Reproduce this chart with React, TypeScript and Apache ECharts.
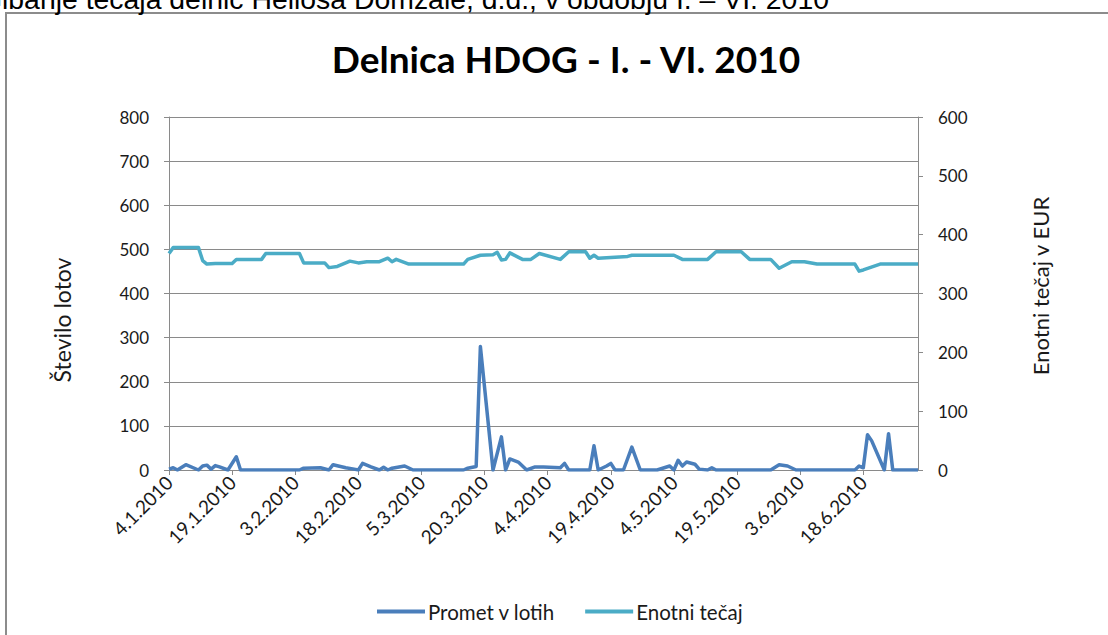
import React, { useEffect, useRef } from "react";
import * as echarts from "echarts";

// ---- data ----
const volumeDates = [
  "4.1", "5.1", "6.1", "8.1", "11.1", "12.1", "13.1", "14.1", "15.1", "16.1", "18.1", "20.1", "21.1",
  "4.2", "5.2", "9.2", "11.2", "12.2", "15.2", "17.2", "18.2", "19.2", "21.2", "23.2", "24.2", "25.2", "26.2",
  "1.3", "3.3", "15.3", "16.3", "18.3", "19.3", "22.3", "24.3", "25.3", "26.3", "28.3", "30.3",
  "1.4", "3.4", "7.4", "8.4", "9.4", "14.4", "15.4", "16.4", "18.4", "19.4", "20.4", "22.4", "24.4", "26.4", "30.4",
  "3.5", "4.5", "5.5", "6.5", "7.5", "9.5", "10.5", "12.5", "13.5", "14.5", "27.5", "29.5", "31.5",
  "2.6", "16.6", "17.6", "18.6", "19.6", "20.6", "23.6", "24.6", "25.6", "1.7",
];
const volumeValues = [
  2, 5, 0, 12, 0, 9, 11, 2, 10, 7, 0, 30, 0,
  0, 4, 5, 0, 12, 5, 2, 0, 15, 7, 0, 6, 0, 4,
  9, 0, 0, 4, 8, 280, 0, 75, 0, 25, 18, 0,
  7, 7, 5, 15, 0, 0, 55, 0, 9, 15, 0, 0, 52, 0, 0,
  9, 0, 22, 9, 18, 13, 2, 0, 5, 0, 0, 12, 9,
  0, 0, 9, 5, 80, 66, 0, 82, 0, 0,
];

const priceDates = [
  "4.1", "5.1", "11.1", "12.1", "13.1", "15.1", "19.1", "20.1", "26.1", "27.1",
  "4.2", "5.2", "10.2", "11.2", "13.2", "16.2", "18.2", "20.2", "23.2", "25.2", "26.2", "27.2",
  "2.3", "15.3", "16.3", "19.3", "22.3", "23.3", "24.3", "25.3", "26.3", "29.3", "31.3",
  "2.4", "7.4", "9.4", "13.4", "14.4", "15.4", "16.4", "23.4", "24.4",
  "4.5", "6.5", "12.5", "14.5", "20.5", "22.5", "27.5", "29.5",
  "1.6", "4.6", "7.6", "16.6", "17.6", "18.6", "22.6", "1.7",
];
const priceValues = [
  368, 378, 378, 356, 350, 351, 351, 358, 358, 368,
  368, 352, 352, 344, 346, 355, 352, 354, 354, 360, 354, 358,
  350, 350, 358, 365, 366, 370, 357, 358, 369, 358, 358,
  368, 358, 371, 371, 360, 365, 360, 363, 365,
  365, 358, 358, 371, 371, 358, 358, 343,
  354, 354, 350, 350, 338, 340, 350, 350,
];

const xTickLabels = [
  "4.1.2010", "19.1.2010", "3.2.2010", "18.2.2010", "5.3.2010", "20.3.2010",
  "4.4.2010", "19.4.2010", "4.5.2010", "19.5.2010", "3.6.2010", "18.6.2010",
];
const xAxisEnd = "1.7.2010";
const leftAxisMax = 800;
const leftAxisStep = 100;
const rightAxisMax = 600;
const rightAxisStep = 100;

const seriesNames = ["Promet v lotih", "Enotni tečaj"];
const titleText = "Delnica HDOG - I. - VI. 2010";
const leftAxisName = "Število lotov";
const rightAxisName = "Enotni tečaj v EUR";
const pageHeading = "Gibanje tečaja delnic Heliosa Domžale, d.d., v obdobju I. – VI. 2010";

// ---- helpers ----
const START = Date.UTC(2010, 0, 4);
const DAY = 86400000;
function toOffset(s: string): number {
  const p = s.split(".").map(Number);
  const y = p.length > 2 ? p[2] : 2010;
  return Math.round((Date.UTC(y, p[1] - 1, p[0]) - START) / DAY);
}
function offsetLabel(v: number): string {
  const dt = new Date(START + v * DAY);
  return `${dt.getUTCDate()}.${dt.getUTCMonth() + 1}.${dt.getUTCFullYear()}`;
}

const FONT = "Lato, 'Noto Sans', sans-serif";
const TEXT = "#1a1a1a";
const GRID = "#8a8a8a";

export default function App() {
  const ref = useRef<HTMLDivElement>(null);

  useEffect(() => {
    if (!ref.current) return;
    const chart = echarts.init(ref.current, undefined, { renderer: "svg" });
    const tickOffsets = xTickLabels.map(toOffset);
    const lastTick = tickOffsets[tickOffsets.length - 1];
    const volData = volumeDates.map((d, i) => [toOffset(d), volumeValues[i]]);
    const priceData = priceDates.map((d, i) => [toOffset(d), priceValues[i]]);

    chart.setOption({
      animation: false,
      backgroundColor: "#ffffff",
      grid: { left: 169, right: 190, top: 117, bottom: 165, containLabel: false },
      xAxis: {
        type: "value",
        min: 0,
        max: toOffset(xAxisEnd),
        interval: 15,
        splitLine: { show: false },
        axisLine: { show: true, onZero: false, lineStyle: { color: GRID, width: 1 } },
        axisTick: {
          show: true,
          length: 5,
          inside: false,
          customValues: tickOffsets,
          lineStyle: { color: GRID },
        },
        axisLabel: {
          rotate: 45,
          margin: 9,
          fontSize: 19,
          fontFamily: FONT,
          color: TEXT,
          customValues: tickOffsets,
          formatter: (v: number) => (v % 15 === 0 && v <= lastTick ? offsetLabel(v) : ""),
        },
      },
      yAxis: [
        {
          type: "value",
          min: 0,
          max: leftAxisMax,
          interval: leftAxisStep,
          position: "left",
          axisLine: { show: true, lineStyle: { color: GRID } },
          axisTick: { show: true, length: 5, lineStyle: { color: GRID } },
          splitLine: { show: true, lineStyle: { color: GRID, width: 1 } },
          axisLabel: { margin: 20, fontSize: 17, fontFamily: FONT, color: TEXT },
        },
        {
          type: "value",
          min: 0,
          max: rightAxisMax,
          interval: rightAxisStep,
          position: "right",
          axisLine: { show: true, lineStyle: { color: GRID } },
          axisTick: { show: true, length: 5, lineStyle: { color: GRID } },
          splitLine: { show: false },
          axisLabel: { margin: 20, fontSize: 17, fontFamily: FONT, color: TEXT },
        },
      ],
      legend: {
        left: 372,
        top: 596,
        itemWidth: 48,
        itemHeight: 4,
        itemGap: 30,
        icon: "rect",
        textStyle: { fontSize: 20.5, fontFamily: FONT, color: TEXT, padding: [0, 0, 0, -2] },
        data: seriesNames,
      },
      series: [
        {
          name: seriesNames[0],
          type: "line",
          yAxisIndex: 0,
          data: volData,
          symbol: "none",
          color: "#4A7EBB",
          lineStyle: { color: "#4A7EBB", width: 3.5, join: "round" },
          z: 3,
        },
        {
          name: seriesNames[1],
          type: "line",
          yAxisIndex: 1,
          data: priceData,
          symbol: "none",
          color: "#4BACC6",
          lineStyle: { color: "#4BACC6", width: 3.5, join: "round" },
          z: 2,
        },
      ],
      graphic: [
        {
          type: "rect",
          shape: { x: 6, y: 13, width: 1300, height: 800 },
          style: { fill: "none", stroke: "#8c8c8c", lineWidth: 2 },
          silent: true,
          z: -10,
        },
        {
          type: "text",
          x: 829,
          y: -1,
          style: {
            text: pageHeading,
            fill: "#000",
            font: "28.4px 'Liberation Sans', Arial, sans-serif",
            textAlign: "right",
            textVerticalAlign: "middle",
          },
        },
        {
          type: "text",
          x: 566,
          y: 58,
          style: {
            text: titleText,
            fill: "#000",
            font: "bold 37px Lato, 'Noto Sans', sans-serif",
            textAlign: "center",
            textVerticalAlign: "middle",
          },
        },
        {
          type: "text",
          x: 62,
          y: 320,
          rotation: Math.PI / 2,
          style: {
            text: leftAxisName,
            fill: TEXT,
            font: "23px Lato, 'Noto Sans', sans-serif",
            textAlign: "center",
            textVerticalAlign: "middle",
          },
        },
        {
          type: "text",
          x: 1040,
          y: 286,
          rotation: Math.PI / 2,
          style: {
            text: rightAxisName,
            fill: TEXT,
            font: "22px Lato, 'Noto Sans', sans-serif",
            textAlign: "center",
            textVerticalAlign: "middle",
          },
        },
      ],
    });
    return () => chart.dispose();
  }, []);

  return (
    <div
      ref={ref}
      style={{ position: "fixed", left: 0, top: 0, width: 1108, height: 635, background: "#fff" }}
    />
  );
}
